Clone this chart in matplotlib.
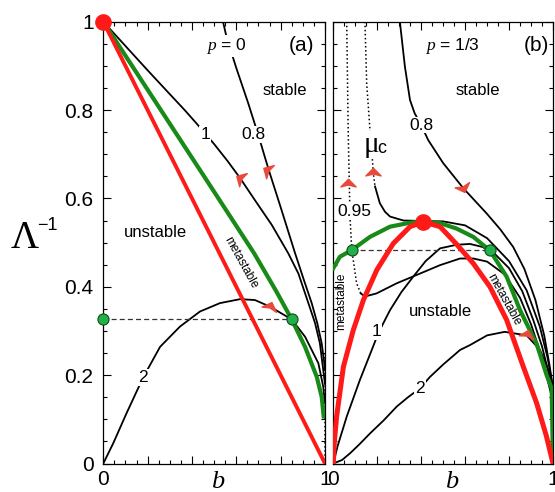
import matplotlib
matplotlib.use("Agg")
import matplotlib.pyplot as plt
from matplotlib.ticker import MultipleLocator, FixedLocator, FuncFormatter
from matplotlib.markers import MarkerStyle
from matplotlib.path import Path
from matplotlib.transforms import Affine2D

plt.rcParams['font.family'] = ['Liberation Sans', 'DejaVu Sans']
plt.rcParams['mathtext.fontset'] = 'custom'
plt.rcParams['mathtext.it'] = 'Liberation Serif:italic'
plt.rcParams['mathtext.rm'] = 'Liberation Sans'

# ---------------- data: panel (a), p = 0 ----------------
red_a_b = [0.0, 1.0]
red_a_L = [1.0, 0.0]
green_a_b = [0, 0.1, 0.2, 0.3, 0.4, 0.5, 0.57, 0.68, 0.78, 0.85, 0.91, 0.963, 0.985, 0.995]
green_a_L = [1, 0.923, 0.846, 0.769, 0.692, 0.615, 0.561, 0.476, 0.39, 0.326, 0.264, 0.196, 0.151, 0.102]
mu1_a_b = [0, 0.1, 0.2, 0.3, 0.367, 0.42, 0.5, 0.56, 0.617, 0.684, 0.76, 0.834, 0.88, 0.925, 0.955, 0.977, 0.992, 1.0]
mu1_a_L = [1, 0.945, 0.89, 0.836, 0.8, 0.77, 0.723, 0.685, 0.646, 0.596, 0.54, 0.476, 0.43, 0.363, 0.318, 0.272, 0.212, 0.18]
mu08_a_b = [0.54, 0.556, 0.6, 0.654, 0.7, 0.744, 0.8, 0.865, 0.905, 0.94, 0.965, 0.985, 0.995, 1.0]
mu08_a_L = [1.0, 0.965, 0.895, 0.815, 0.742, 0.668, 0.58, 0.476, 0.415, 0.363, 0.318, 0.272, 0.235, 0.212]
mu2_a_b = [0, 0.045, 0.105, 0.18, 0.256, 0.346, 0.436, 0.526, 0.617, 0.684, 0.752, 0.85, 0.91, 0.97, 0.992, 1.0]
mu2_a_L = [0, 0.046, 0.114, 0.195, 0.264, 0.31, 0.344, 0.363, 0.372, 0.37, 0.355, 0.326, 0.287, 0.227, 0.174, 0.136]
dash_a_b = [0.0, 0.85]
dash_a_L = [0.326, 0.326]
edge_a_b = [0.998, 0.998]
edge_a_L = [0.25, 0.0]
dots_a_b = [0.0, 0.85]
dots_a_L = [0.326, 0.326]
crit_a_b = [0.0]
crit_a_L = [1.0]
arrows_a_b = [0.617, 0.737, 0.752]
arrows_a_L = [0.646, 0.664, 0.356]
arrows_a_rot = [60, 60, -20]

# ---------------- data: panel (b), p = 1/3 ----------------
red_b_b = [0, 0.005, 0.015, 0.046, 0.091, 0.137, 0.198, 0.273, 0.349, 0.41, 0.486, 0.56, 0.637, 0.713, 0.789, 0.865, 0.926, 0.97, 1.0]
red_b_L = [0, 0.05, 0.106, 0.219, 0.302, 0.37, 0.438, 0.498, 0.536, 0.547, 0.536, 0.497, 0.453, 0.40, 0.325, 0.219, 0.136, 0.062, 0]
green_b_b = [0, 0.03, 0.084, 0.167, 0.258, 0.349, 0.41, 0.486, 0.56, 0.637, 0.713, 0.789, 0.85, 0.926, 0.971, 0.994, 1.0]
green_b_L = [0.442, 0.468, 0.483, 0.513, 0.536, 0.545, 0.548, 0.544, 0.532, 0.513, 0.482, 0.423, 0.347, 0.27, 0.2, 0.17, 0.0]
muc_dot_b = [0.144, 0.152, 0.167, 0.175, 0.182, 0.19]
muc_dot_L = [1.0, 0.86, 0.755, 0.71, 0.657, 0.627]
muc_b = [0.19, 0.212, 0.235, 0.258, 0.319, 0.41, 0.5, 0.6, 0.7, 0.8, 0.88, 0.94, 0.975, 1.0]
muc_L = [0.627, 0.589, 0.57, 0.559, 0.55, 0.549, 0.548, 0.539, 0.51, 0.458, 0.392, 0.31, 0.24, 0.17]
mu095_dot_b = [0.061, 0.068, 0.076, 0.084, 0.091, 0.106, 0.125]
mu095_dot_L = [1.0, 0.747, 0.559, 0.483, 0.46, 0.408, 0.385]
mu095_b = [0.125, 0.144, 0.197, 0.289, 0.395, 0.486, 0.577, 0.637, 0.7, 0.78, 0.85, 0.9, 0.94, 0.97, 0.99, 1.0]
mu095_L = [0.385, 0.378, 0.385, 0.408, 0.43, 0.449, 0.464, 0.464, 0.457, 0.428, 0.375, 0.315, 0.255, 0.2, 0.16, 0.14]
mu1_b_b = [0, 0.02, 0.061, 0.121, 0.175, 0.197, 0.22, 0.258, 0.31, 0.364, 0.42, 0.486, 0.56, 0.622, 0.68, 0.74, 0.8, 0.86, 0.91, 0.95, 0.98, 1.0]
mu1_b_L = [0, 0.04, 0.106, 0.189, 0.257, 0.285, 0.31, 0.347, 0.388, 0.423, 0.458, 0.487, 0.495, 0.497, 0.49, 0.472, 0.442, 0.39, 0.325, 0.265, 0.205, 0.16]
mu2_b_b = [0, 0.04, 0.076, 0.12, 0.167, 0.23, 0.289, 0.34, 0.394, 0.44, 0.5, 0.577, 0.622, 0.7, 0.78, 0.88, 0.941, 0.979, 0.994, 1.0]
mu2_b_L = [0, 0.008, 0.023, 0.044, 0.068, 0.098, 0.129, 0.15, 0.17, 0.196, 0.224, 0.257, 0.268, 0.29, 0.298, 0.29, 0.257, 0.212, 0.166, 0.14]
mu08_b_b = [0.303, 0.326, 0.349, 0.37, 0.4, 0.432, 0.5, 0.592, 0.698, 0.76, 0.819, 0.87, 0.92, 0.96, 0.985, 1.0]
mu08_b_L = [1.0, 0.898, 0.823, 0.793, 0.766, 0.732, 0.68, 0.623, 0.566, 0.53, 0.49, 0.44, 0.37, 0.29, 0.22, 0.17]
dash_b_b = [0.084, 0.713]
dash_b_L = [0.483, 0.483]
dots_b_b = [0.084, 0.713]
dots_b_L = [0.483, 0.483]
crit_b_b = [0.41]
crit_b_L = [0.547]
arrows_b_b = [0.068, 0.182, 0.592, 0.88]
arrows_b_L = [0.636, 0.66, 0.623, 0.292]
arrows_b_rot = [0, 0, 200, -15]

# ---------------- styles ----------------
RED = '#ff1a1a'
GREEN = '#178a17'
DOTG = '#22b04a'
ARROW = '#e8493a'
BLK = 'black'

dart = Path([(0, 0.55), (-1, -0.45), (0, -0.2), (1, -0.45), (0, 0.55)],
            [Path.MOVETO, Path.LINETO, Path.LINETO, Path.LINETO, Path.CLOSEPOLY])


def arrow_marker(rot):
    return MarkerStyle(dart, transform=Affine2D().rotate_deg(rot))


fig = plt.figure(figsize=(5.55, 4.92), dpi=100)
axA = fig.add_axes([103.3 / 555, 28.5 / 492, 221.7 / 555, 441.8 / 492])
axB = fig.add_axes([333.3 / 555, 28.5 / 492, 219.7 / 555, 441.8 / 492])

for ax in (axA, axB):
    ax.set_xlim(0, 1)
    ax.set_ylim(0, 1)
    ax.xaxis.set_major_locator(FixedLocator([0, 0.2, 0.4, 0.6, 0.8, 1.0]))
    ax.xaxis.set_major_formatter(FuncFormatter(lambda v, p: '0' if abs(v) < 1e-9 else ('1' if abs(v - 1) < 1e-9 else '')))
    ax.xaxis.set_minor_locator(MultipleLocator(0.05))
    ax.yaxis.set_major_locator(FixedLocator([0, 0.2, 0.4, 0.6, 0.8, 1.0]))
    ax.yaxis.set_major_formatter(FuncFormatter(lambda v, p: {0: '0', 1: '1'}.get(round(v, 3), f'{v:.1f}')))
    ax.yaxis.set_minor_locator(MultipleLocator(0.05))
    ax.tick_params(which='both', direction='in', top=True, right=True, width=0.8, labelsize=15)
    ax.tick_params(which='major', length=5.5)
    ax.tick_params(which='minor', length=3.2)
    ax.tick_params(axis='x', pad=5)
    ax.tick_params(axis='y', pad=7)
    for s in ax.spines.values():
        s.set_linewidth(0.9)
axB.tick_params(axis='y', labelleft=False)

# ---- panel (a)
axA.plot(mu1_a_b, mu1_a_L, color=BLK, lw=1.3, zorder=2)
axA.plot(mu08_a_b, mu08_a_L, color=BLK, lw=1.3, zorder=2)
axA.plot(mu2_a_b, mu2_a_L, color=BLK, lw=1.3, zorder=2)
axA.plot(edge_a_b, edge_a_L, color=BLK, lw=1.1, ls=':', zorder=2)
axA.plot(dash_a_b, dash_a_L, color='#333333', lw=0.9, ls=(0, (4, 2.5)), zorder=2)
axA.plot(green_a_b, green_a_L, color=GREEN, lw=3.0, zorder=3, solid_capstyle='butt')
axA.plot(red_a_b, red_a_L, color=RED, lw=2.8, zorder=3)
axA.plot(dots_a_b, dots_a_L, 'o', color=DOTG, mec='#0b4d17', mew=0.8, ms=8, zorder=6, clip_on=False)
axA.plot(crit_a_b, crit_a_L, 'o', color=RED, ms=11, zorder=6, clip_on=False)
for xb, yl, r in zip(arrows_a_b, arrows_a_L, arrows_a_rot):
    axA.plot([xb], [yl], marker=arrow_marker(r), color=ARROW, ms=11, ls='none', zorder=6)

wb = dict(facecolor='white', edgecolor='none', pad=0.6)
axA.text(0.459, 0.744, '1', fontsize=12.5, ha='center', va='center', bbox=wb, zorder=5)
axA.text(0.675, 0.744, '0.8', fontsize=12.5, ha='center', va='center', bbox=wb, zorder=5)
axA.text(0.18, 0.195, '2', fontsize=12.5, ha='center', va='center', bbox=wb, zorder=5)
axA.text(0.553, 0.945, r'$p$ = 0', fontsize=12.5, ha='center', va='center', bbox=wb, zorder=5)
axA.text(0.895, 0.945, '(a)', fontsize=15, ha='center', va='center')
axA.text(0.82, 0.845, 'stable', fontsize=12, ha='center', va='center')
axA.text(0.234, 0.522, 'unstable', fontsize=12, ha='center', va='center')
axA.text(0.618, 0.455, 'metastable', fontsize=8.5, ha='center', va='center', rotation=-61, rotation_mode='anchor')

# ---- panel (b)
axB.plot(muc_dot_b, muc_dot_L, color=BLK, lw=1.1, ls=':', zorder=2)
axB.plot(muc_b, muc_L, color=BLK, lw=1.3, zorder=2)
axB.plot(mu095_dot_b, mu095_dot_L, color=BLK, lw=1.1, ls=':', zorder=2)
axB.plot(mu095_b, mu095_L, color=BLK, lw=1.3, zorder=2)
axB.plot(mu1_b_b, mu1_b_L, color=BLK, lw=1.3, zorder=2)
axB.plot(mu2_b_b, mu2_b_L, color=BLK, lw=1.3, zorder=2)
axB.plot(mu08_b_b, mu08_b_L, color=BLK, lw=1.3, zorder=2)
axB.plot(dash_b_b, dash_b_L, color='#333333', lw=0.9, ls=(0, (4, 2.5)), zorder=2)
axB.plot(green_b_b, green_b_L, color=GREEN, lw=3.0, zorder=3)
axB.plot(red_b_b, red_b_L, color=RED, lw=3.6, zorder=3)
axB.plot(dots_b_b, dots_b_L, 'o', color=DOTG, mec='#0b4d17', mew=0.8, ms=8, zorder=6)
axB.plot(crit_b_b, crit_b_L, 'o', color=RED, ms=11, zorder=6)
for xb, yl, r in zip(arrows_b_b, arrows_b_L, arrows_b_rot):
    axB.plot([xb], [yl], marker=arrow_marker(r), color=ARROW, ms=11, ls='none', zorder=6)

axB.text(0.40, 0.766, '0.8', fontsize=12.5, ha='center', va='center', bbox=wb, zorder=5)
axB.text(0.094, 0.57, '0.95', fontsize=12.5, ha='center', va='center', bbox=wb, zorder=5)
axB.text(0.172, 0.722, 'μ', family='Liberation Serif', fontsize=21, ha='center', va='center',
         bbox=dict(facecolor='white', edgecolor='none', pad=0.2), zorder=5)
axB.text(0.222, 0.712, 'c', fontsize=13, ha='center', va='center', zorder=5)
axB.text(0.197, 0.298, '1', fontsize=12.5, ha='center', va='center', bbox=wb, zorder=5)
axB.text(0.394, 0.17, '2', fontsize=12.5, ha='center', va='center', bbox=wb, zorder=5)
axB.text(0.54, 0.945, r'$p$ = 1/3', fontsize=12.5, ha='center', va='center')
axB.text(0.925, 0.945, '(b)', fontsize=15, ha='center', va='center')
axB.text(0.656, 0.845, 'stable', fontsize=12, ha='center', va='center')
axB.text(0.486, 0.343, 'unstable', fontsize=12, ha='center', va='center')
axB.text(0.038, 0.366, 'metastable', fontsize=8.5, ha='center', va='center', rotation=90)
axB.text(0.775, 0.37, 'metastable', fontsize=8.5, ha='center', va='center', rotation=-61, rotation_mode='anchor')

# axis labels
fig.text(217.5 / 555, 1 - 488.5 / 492, 'b', family='Liberation Serif', style='italic', fontsize=19,
         ha='center', va='baseline')
fig.text(451.7 / 555, 1 - 488.5 / 492, 'b', family='Liberation Serif', style='italic', fontsize=19,
         ha='center', va='baseline')
fig.text(25 / 555, 1 - 238 / 492, 'Λ', family='Liberation Serif', fontsize=28, ha='center', va='center')
fig.text(47 / 555, 1 - 225 / 492, '−1', fontsize=13, ha='center', va='center')

fig.savefig('out.png', dpi=100)
